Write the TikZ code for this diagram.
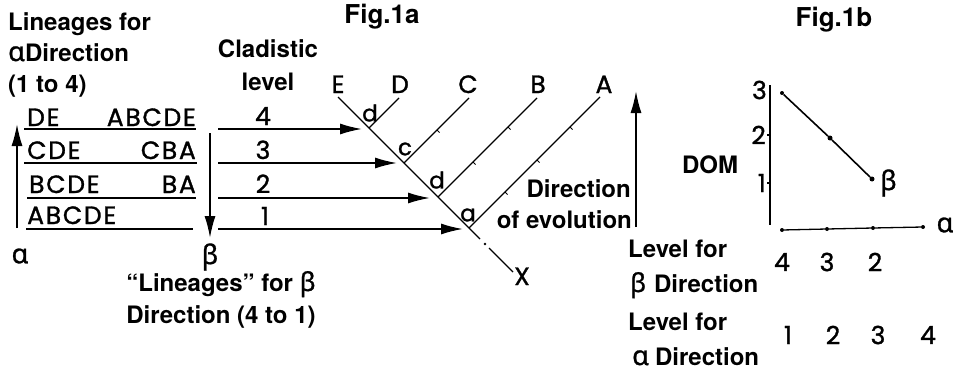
\documentclass[tikz,border=0pt]{standalone}
\usepackage{fontspec}
\setmainfont{TeX Gyre Heros}
\newfontfamily\geo[FakeBold=1.2]{Poppins}
\newfontfamily\geow[LetterSpace=7,FakeBold=1.2]{Poppins}
\newfontfamily\grk[FakeBold=1]{Noto Sans}
\usetikzlibrary{arrows.meta}
\tikzset{
  lbl/.style={font=\fontsize{24}{24}\selectfont\bfseries, inner sep=0pt},
  figl/.style={font=\fontsize{26}{26}\selectfont\bfseries, inner sep=0pt},
  geot/.style={font=\fontsize{25}{25}\selectfont\geo, inner sep=0pt},
  geow/.style={font=\fontsize{25}{25}\selectfont\geow, inner sep=0pt},
  geos/.style={font=\fontsize{23}{23}\selectfont\geo, inner sep=0pt},
  grkt/.style={font=\fontsize{27}{27}\selectfont\grk, inner sep=0pt},
  ln/.style={line width=1.6pt},
  thin/.style={line width=1.3pt},
  arr/.style={line width=1.6pt, -{Latex[length=22pt,width=11pt]}},
  dotn/.style={circle, fill, inner sep=0pt, minimum size=5pt},
}
\newcommand{\ga}{{\mdseries\grk\fontsize{27}{27}\selectfont α}}
\newcommand{\gb}{{\mdseries\grk\fontsize{26}{26}\selectfont β}}
\begin{document}
\begin{tikzpicture}[x=1pt,y=-1pt]
\useasboundingbox (0,0) rectangle (956,375);
% ---------- left labels
\node[lbl, anchor=base west] (t1) at (8,30) {Lineages for};
\node[lbl, anchor=base west] (t2) at (8,61) {\ga Direction};
\node[lbl, anchor=base west] (t3) at (8,92) {(1 to 4)};
\node[lbl, anchor=base] (t4) at (268,57) {Cladistic};
\node[lbl, anchor=base] (t5) at (268,90) {level};
\node[figl, anchor=base] (fa) at (382,23) {Fig.1a};
% ---------- rows
\node[geow, anchor=base west] (r4l) at (27,126) {DE};
\node[geow, anchor=base east] (r4r) at (196,126) {ABCDE};
\node[geow, anchor=base west] (r3l) at (27,159) {CDE};
\node[geow, anchor=base east] (r3r) at (196,159) {CBA};
\node[geow, anchor=base west] (r2l) at (29,193) {BCDE};
\node[geow, anchor=base east] (r2r) at (196,193) {BA};
\node[geow, anchor=base west] (r1l) at (27,224) {ABCDE};
\draw[ln] (24,129) -- (196,129);
\draw[ln] (24,163) -- (197,163);
\draw[ln] (27,198) -- (196,198);
\draw[ln] (26,229) -- (193,229);
% vertical arrows
\coordinate (au0) at (17,228); \coordinate (au1) at (17,124);
\draw[arr] (au0) -- (au1);
\coordinate (bd0) at (210,133); \coordinate (bd1) at (210,238);
\draw[arr] (bd0) -- (bd1);
\node[grkt] (alab) at (20,256) {α};
\node[grkt] (blab) at (210,257) {β};
\node[lbl, anchor=base] (lb1) at (221,291) {“Lineages” for \gb};
\node[lbl, anchor=base] (lb2) at (221,323) {Direction (4 to 1)};
% level numbers and arrows
\node[geot, anchor=base] (n4) at (263,125) {4};
\node[geot, anchor=base] (n3) at (263,159) {3};
\node[geot, anchor=base] (n2) at (263,193) {2};
\node[geot, anchor=base] (n1) at (265,225) {1};
\coordinate (s4) at (218,129); \coordinate (e4) at (362,129);
\coordinate (s3) at (218,163); \coordinate (e3) at (397,163);
\coordinate (s2) at (218,198); \coordinate (e2) at (430,198);
\coordinate (s1) at (218,229); \coordinate (e1) at (463,229);
\draw[arr] (s4) -- (e4);
\draw[arr] (s3) -- (e3);
\draw[arr] (s2) -- (e2);
\draw[arr] (s1) -- (e1);
% ---------- cladogram
\coordinate (Et) at (338,97);
\coordinate (j1) at (369,128);
\coordinate (j2) at (404,163);
\coordinate (j3) at (438,197);
\coordinate (j4) at (469,228);
\coordinate (m1) at (480,239);
\coordinate (m2) at (489,248);
\coordinate (Xe) at (513,272);
\coordinate (Dt) at (399,98);
\coordinate (Ct) at (469,98);
\coordinate (Bt) at (537,98);
\coordinate (At) at (600,97);
\draw[thin] (Et) -- (j1) -- (j2) -- (j3) -- (j4) -- (m1);
\fill (485,244) circle (1.3pt);
\draw[thin] (m2) -- (Xe);
\draw[thin] (j1) -- (Dt);
\draw[thin] (j2) -- (Ct);
\draw[thin] (j3) -- (Bt);
\draw[thin] (j4) -- (At);
% ticks
\foreach \x/\y in {437/130, 473/162, 508/127, 505/192, 537/160, 570/127}
  \draw[line width=1pt] (\x,\y) -- ++(2.5,2.5);
\node[geot, anchor=base] (lE) at (338,93) {E};
\node[geot, anchor=base] (lD) at (400,93) {D};
\node[geot, anchor=base] (lC) at (468,93) {C};
\node[geot, anchor=base] (lB) at (538,93) {B};
\node[geot, anchor=base] (lA) at (604,93) {A};
\node[geot, anchor=base] (lX) at (522,285) {X};
\node[geos] (sd1) at (370,113) {d};
\node[geos] (sc) at (405,149) {c};
\node[geos] (sd2) at (437,180) {d};
\node[geos] (sa) at (468,215) {a};
% direction of evolution
\coordinate (ev0) at (636,227); \coordinate (ev1) at (636,91);
\draw[arr] (ev0) -- (ev1);
\node[lbl, anchor=base east] (de1) at (631,197) {Direction};
\node[lbl, anchor=base east] (de2) at (632,228) {of evolution};
% ---------- Fig 1b
\node[figl, anchor=base] (fb) at (834,26) {Fig.1b};
\coordinate (ya) at (770,85); \coordinate (yb) at (770,225);
\draw[thin] (ya) -- (yb);
\draw[thin] (767,135) -- (770,135);
\draw[thin] (767,183) -- (770,183);
\node[geot, anchor=east] (y3) at (767,90) {3};
\node[geot, anchor=east] (y2) at (766,135) {2};
\node[geot, anchor=east] (y1) at (766,183) {1};
\node[lbl] (dom) at (710,165) {DOM};
\node[dotn, minimum size=4pt] (p3) at (782,93) {};
\node[dotn] (p2) at (830,138) {};
\node[dotn] (p1) at (872,179) {};
\draw[ln] (p3) -- (p2) -- (p1);
\node[grkt, anchor=west] (pb) at (880,183) {β};
\node[dotn, minimum size=4pt] (h4) at (782,230) {};
\node[dotn, minimum size=4pt] (h3) at (827,229) {};
\node[dotn, minimum size=4pt] (h2) at (873,228) {};
\node[dotn, minimum size=4pt] (h1) at (923,227) {};
\draw[thin] (h4) -- (h3) -- (h2) -- (h1);
\node[grkt] (pa) at (945,225) {α};
\node[geot] (b4) at (782,262) {4};
\node[geot] (b3) at (827,262) {3};
\node[geot] (b2) at (875,262) {2};
\node[geot] (c1) at (788,335) {1};
\node[geot] (c2) at (833,335) {2};
\node[geot] (c3) at (878,335) {3};
\node[geot] (c4) at (928,335) {4};
\node[lbl, anchor=base west] (lv1) at (628,257) {Level for};
\node[lbl, anchor=base west] (lv2) at (630,292) {\gb\hspace{8pt}Direction};
\node[lbl, anchor=base west] (lv3) at (628,330) {Level for};
\node[lbl, anchor=base west] (lv4) at (632,365) {\ga\hspace{6pt}Direction};
\end{tikzpicture}
\end{document}
